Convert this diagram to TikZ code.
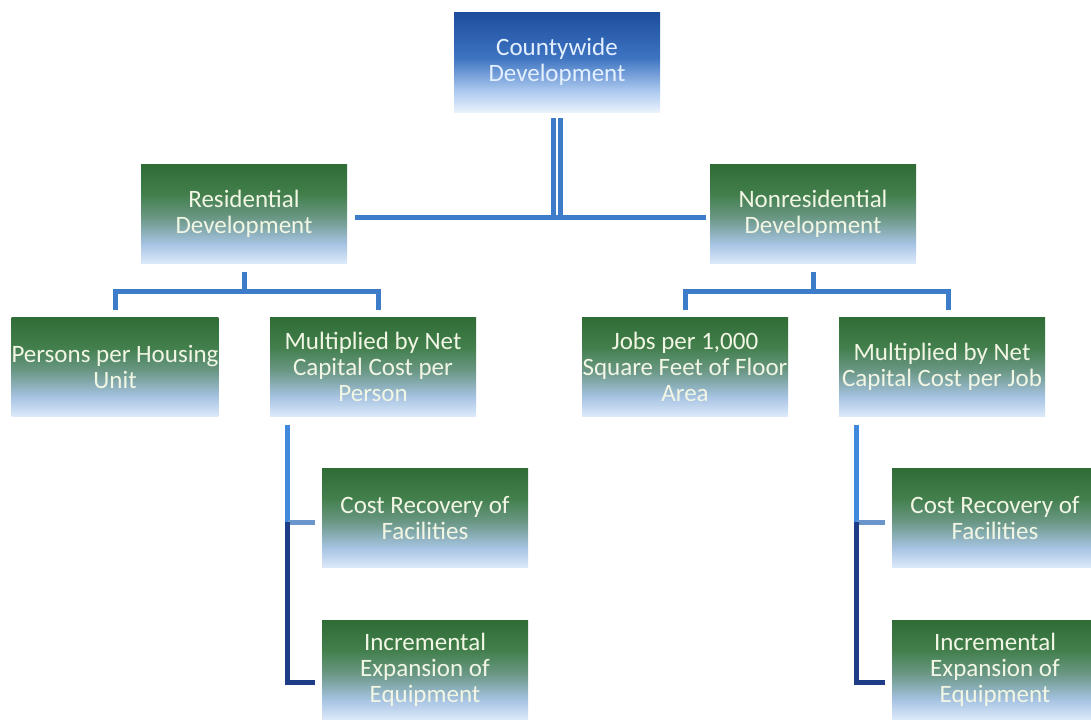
\documentclass[tikz,border=0pt]{standalone}
\usepackage{fontspec}
\setmainfont{Carlito}
\usetikzlibrary{positioning}
\usepackage{xcolor}
\definecolor{greentop}{HTML}{2F6C36}
\definecolor{greenmid}{HTML}{427F4C}
\definecolor{sagemid}{HTML}{6B9886}
\definecolor{mistblue}{HTML}{A6C3E2}
\definecolor{paleblue}{HTML}{DDEAFA}
\definecolor{bluetop}{HTML}{1C4D9C}
\definecolor{bluemid}{HTML}{3E74C2}
\definecolor{skyblue}{HTML}{A9C7EE}
\definecolor{paletop}{HTML}{EAF2FC}
\definecolor{boxtext}{HTML}{F2F6E4}
\definecolor{toptext}{HTML}{E4F0FF}
\definecolor{linkblue}{HTML}{3D7CC9}
\definecolor{feedblue}{HTML}{3F88DC}
\definecolor{stubblue}{HTML}{6A96CC}
\definecolor{linknavy}{HTML}{1F3C86}

% greens on top, fading to pale blue at the bottom
\pgfdeclareverticalshading{greenbox}{100bp}{color(0bp)=(paleblue); color(25bp)=(paleblue);
  color(35bp)=(mistblue); color(48bp)=(sagemid); color(60bp)=(greenmid); color(75bp)=(greentop);
  color(100bp)=(greentop)}
\pgfdeclareverticalshading{bluebox}{100bp}{color(0bp)=(paletop); color(25bp)=(paletop);
  color(36bp)=(skyblue); color(52bp)=(bluemid); color(75bp)=(bluetop); color(100bp)=(bluetop)}

\begin{document}
\begin{tikzpicture}[x=1pt, y=-1pt,
    stage/.style={shade, shading=greenbox, minimum width=206pt, minimum height=99pt,
      inner sep=0pt, align=center, text=boxtext, font=\fontsize{25}{26}\selectfont},
    topstage/.style={stage, shading=bluebox, minimum height=100pt, text=toptext},
    conn/.style={draw=linkblue, line width=5pt},
    feed/.style={draw=feedblue, line width=5pt},
    stub/.style={draw=stubblue, line width=5pt},
    base/.style={draw=linknavy, line width=5pt}]
  \useasboundingbox (0,0) rectangle (1091,720);

  % Top of the tree
  \node[topstage] (county) at (557,62) {Countywide\\Development};

  % Second level
  \node[stage] (res) at (244,214) {Residential\\Development};
  \node[stage] (nonres) at (813,214) {Nonresidential\\Development};

  % Third level
  \node[stage] (persons) at (115,367) {Persons per Housing\\Unit};
  \node[stage] (resmult) at (373,367) {Multiplied by Net\\Capital Cost per\\Person};
  \node[stage] (jobs) at (685,367) {Jobs per 1,000\\Square Feet of Floor\\Area};
  \node[stage] (jobmult) at (942,367) {Multiplied by Net\\Capital Cost per Job};

  % Bottom rows
  \node[stage] (rescost) at (425,518) {Cost Recovery of\\Facilities};
  \node[stage] (resinc) at (425,670) {Incremental\\Expansion of\\Equipment};
  \node[stage] (jobcost) at (995,518) {Cost Recovery of\\Facilities};
  \node[stage] (jobinc) at (995,670) {Incremental\\Expansion of\\Equipment};

  % County to the two branches
  \draw[conn, line width=5pt, double=white, double distance=2pt]
    ([yshift=-6pt]county.south) -- ([yshift=-3pt]county.south |- res.east);
  \draw[conn] ([xshift=8pt,yshift=-3pt]res.east) -- ([xshift=-4pt,yshift=-3pt]nonres.west);

  % Residential bus
  \draw[conn] ([yshift=-8pt]res.south) -- ([yshift=-28pt]res.south);
  \draw[conn] ([yshift=7pt]persons.north) |- ([yshift=-28pt]res.south)
    -| ([xshift=5pt,yshift=7pt]resmult.north);

  % Nonresidential bus
  \draw[conn] ([yshift=-8pt]nonres.south) -- ([yshift=-28pt]nonres.south);
  \draw[conn] ([yshift=7pt]jobs.north) |- ([yshift=-28pt]nonres.south)
    -| ([xshift=6pt,yshift=7pt]jobmult.north);

  % Residential cost split
  \coordinate (restrunk) at ([xshift=18pt,yshift=-8pt]resmult.south west);
  \draw[feed] (restrunk) -- ([yshift=-4pt]restrunk |- rescost.west);
  \draw[stub] ([yshift=-4pt]restrunk |- rescost.west) -- ([xshift=-7pt,yshift=-4pt]rescost.west);
  \draw[base] ([yshift=-4pt]restrunk |- rescost.west) |- ([xshift=-7pt,yshift=-12pt]resinc.west);

  % Nonresidential cost split
  \coordinate (jobtrunk) at ([xshift=18pt,yshift=-8pt]jobmult.south west);
  \draw[feed] (jobtrunk) -- ([yshift=-4pt]jobtrunk |- jobcost.west);
  \draw[stub] ([yshift=-4pt]jobtrunk |- jobcost.west) -- ([xshift=-7pt,yshift=-4pt]jobcost.west);
  \draw[base] ([yshift=-4pt]jobtrunk |- jobcost.west) |- ([xshift=-7pt,yshift=-12pt]jobinc.west);
\end{tikzpicture}
\end{document}
